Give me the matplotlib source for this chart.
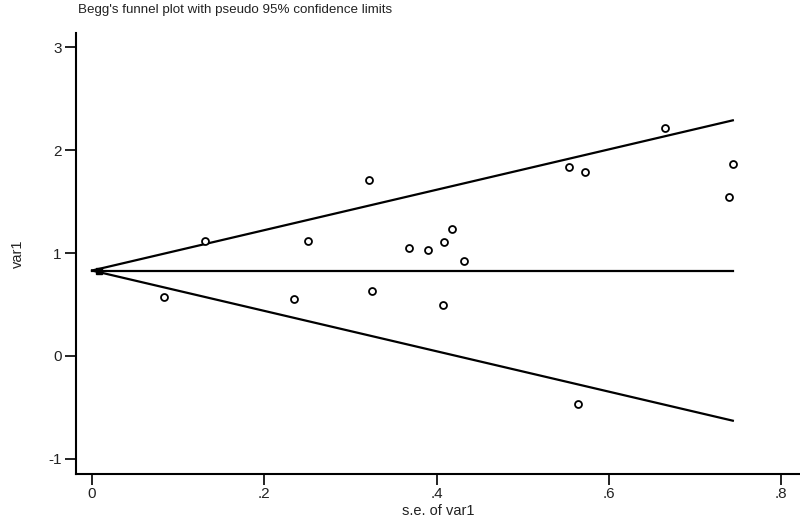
import numpy as np
import matplotlib
matplotlib.use("Agg")
import matplotlib.pyplot as plt

plt.rcParams['font.family'] = ['Liberation Sans', 'DejaVu Sans']
plt.rcParams['axes.unicode_minus'] = False

# Study data (standard error, effect estimate var1)
se = [0.131, 0.251, 0.322, 0.368, 0.390, 0.409, 0.418, 0.432, 0.554, 0.572,
      0.665, 0.744, 0.740, 0.0836, 0.235, 0.325, 0.408, 0.564]
var1 = [1.117, 1.117, 1.709, 1.049, 1.029, 1.107, 1.233, 0.922, 1.835, 1.786,
        2.214, 1.864, 1.544, 0.576, 0.55, 0.634, 0.498, -0.463]
# study with near-zero standard error
se_small = [0.008]
var1_small = [0.825]

pooled = 0.83
z = 1.96
se_max = 0.744

xticks = [0, 0.2, 0.4, 0.6, 0.8]
xticklabels = ["0", ".2", ".4", ".6", ".8"]
yticks = [-1, 0, 1, 2, 3]

fig = plt.figure(figsize=(8, 5.2), dpi=100)
ax = fig.add_axes([0.0944, 0.0894, 0.9056, 0.8471])

s_line = np.array([0.0, se_max])
ax.plot(s_line, [pooled, pooled], color='black', lw=1.6)
ax.plot(s_line, pooled + z * s_line, color='black', lw=1.6)
ax.plot(s_line, pooled - z * s_line, color='black', lw=1.6)

ax.plot(se, var1, linestyle='none', marker='o', ms=5, mfc='white',
        mec='black', mew=1.3)
ax.plot(se_small, var1_small, linestyle='none', marker='s', ms=4.5,
        mfc='black', mec='black')

ax.set_xlim(-0.0192, 0.822)
ax.set_ylim(-1.141, 3.136)
ax.set_xticks(xticks)
ax.set_xticklabels(xticklabels)
ax.set_yticks(yticks)

for side in ['top', 'right']:
    ax.spines[side].set_visible(False)
for side in ['left', 'bottom']:
    ax.spines[side].set_linewidth(1.5)
ax.tick_params(direction='out', length=8, width=1.4, labelsize=11,
               colors='#222222', pad=2)

ax.set_xlabel("s.e. of var1", fontsize=10.5, color='#222222', labelpad=2)
ax.set_ylabel("var1", fontsize=10.5, color='#222222', labelpad=17)
fig.text(0.097, 0.98, "Begg's funnel plot with pseudo 95% confidence limits",
         fontsize=9.6, color='#222222', ha='left', va='center')

fig.savefig("out.png", dpi=100)
